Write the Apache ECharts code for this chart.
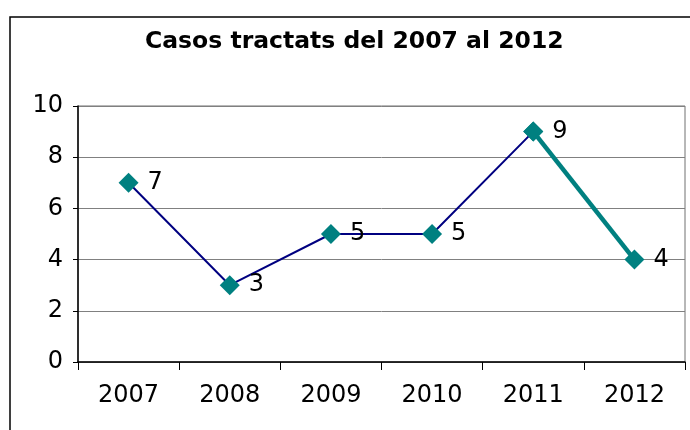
<!DOCTYPE html>
<html>
<head>
<meta charset="utf-8">
<script src="https://cdn.jsdelivr.net/npm/echarts@6/dist/echarts.min.js"></script>
<style>
  html, body { margin: 0; padding: 0; background: #fff; }
  #chart { width: 690px; height: 430px; }
</style>
</head>
<body>
<div id="chart"></div>
<script>
const years = ['2007', '2008', '2009', '2010', '2011', '2012']
const casos = [7, 3, 5, 5, 9, 4]
const yTicks = { min: 0, max: 10, interval: 2 }

// the last segment (2011 -> 2012) is drawn thicker in teal
const splitAt = 4
const firstPart = casos.map((v, i) => (i <= splitAt ? v : '-'))
const lastPart = casos.map((v, i) => (i >= splitAt ? v : '-'))

const font = 'DejaVu Sans'
const chart = echarts.init(document.getElementById('chart'))

const labelStyle = {
  show: true,
  position: 'right',
  distance: 9,
  fontFamily: font,
  fontSize: 24,
  color: '#000'
}

const option = {
  animation: false,
  title: {
    text: 'Casos tractats del 2007 al 2012',
    left: 145,
    top: 30,
    padding: 0,
    textStyle: { fontFamily: font, fontSize: 23.5, fontWeight: 'bold', color: '#000' }
  },
  graphic: [
    {
      type: 'rect',
      shape: { x: 10, y: 17, width: 720, height: 440 },
      style: { fill: 'none', stroke: '#000', lineWidth: 1.5 },
      silent: true
    }
  ],
  grid: {
    left: 78, right: 5, top: 106, bottom: 68,
    show: true, borderColor: '#707070', borderWidth: 1
  },
  xAxis: {
    type: 'category',
    data: years,
    boundaryGap: true,
    axisLine: { lineStyle: { color: '#000', width: 1.5 } },
    axisTick: { show: true, length: 8, lineStyle: { color: '#000' } },
    axisLabel: { fontFamily: font, fontSize: 24, color: '#000', margin: 22 }
  },
  yAxis: {
    type: 'value',
    min: yTicks.min,
    max: yTicks.max,
    interval: yTicks.interval,
    axisLine: { show: true, lineStyle: { color: '#000', width: 1.5 } },
    axisTick: { show: true, length: 5, lineStyle: { color: '#000' } },
    axisLabel: { fontFamily: font, fontSize: 24, color: '#000', margin: 15 },
    splitLine: { lineStyle: { color: '#808080', width: 1 } }
  },
  series: [
    {
      type: 'line',
      data: firstPart,
      symbol: 'diamond',
      symbolSize: 20,
      lineStyle: { color: '#000080', width: 2 },
      itemStyle: { color: '#008080' },
      label: labelStyle
    },
    {
      type: 'line',
      data: lastPart,
      symbol: 'diamond',
      symbolSize: 20,
      lineStyle: { color: '#008080', width: 4.5 },
      itemStyle: { color: '#008080' },
      label: Object.assign({}, labelStyle, {
        formatter: p => (p.dataIndex > splitAt ? p.value : '')
      })
    }
  ]
}
chart.setOption(option)
</script>
</body>
</html>
